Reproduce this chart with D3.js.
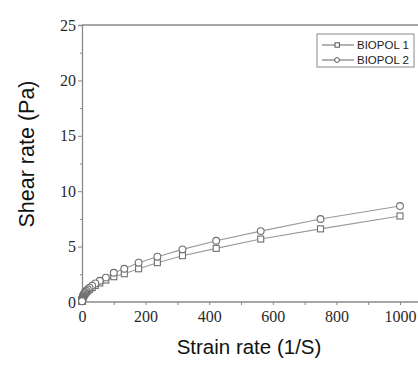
<!DOCTYPE html>
<html><head><meta charset="utf-8">
<script src="https://cdn.jsdelivr.net/npm/d3@7"></script>
<style>body{margin:0;background:#fff;} svg{display:block;} .tk text{font-family:"Liberation Serif";font-size:16px;fill:#2a2a2a;}</style>
</head><body>
<svg id="c" width="418" height="365"></svg>
<script>
const strainRate = [1000, 750, 562, 422, 316, 237, 178, 133, 100, 75, 56, 42, 32, 24, 18, 13.3, 10, 7.5, 5.6, 4.2, 3.2, 2.4, 1.8, 1.3, 1.0, 0.75, 0.56, 0.42, 0.32, 0.24, 0.18, 0.13, 0.1];
const biopol2 = [8.66, 7.49, 6.4, 5.53, 4.75, 4.09, 3.55, 3.0, 2.64, 2.2, 1.92, 1.68, 1.48, 1.3, 1.15, 1.02, 0.9, 0.79, 0.69, 0.6, 0.52, 0.45, 0.39, 0.33, 0.28, 0.24, 0.2, 0.17, 0.14, 0.12, 0.1, 0.08, 0.07];
const biopol1 = [7.76, 6.6, 5.68, 4.84, 4.18, 3.55, 3.0, 2.55, 2.28, 1.98, 1.72, 1.5, 1.3, 1.14, 1.0, 0.88, 0.77, 0.67, 0.58, 0.5, 0.43, 0.37, 0.32, 0.27, 0.23, 0.19, 0.16, 0.14, 0.11, 0.09, 0.08, 0.06, 0.05];
const xTicks = [0, 200, 400, 600, 800, 1000];
const yTicks = [0, 5, 10, 15, 20, 25];
const seriesNames = ["BIOPOL 1", "BIOPOL 2"];

const svg = d3.select("#c");
const x = d3.scaleLinear().domain([0, 1000]).range([82, 400]);
const y = d3.scaleLinear().domain([0, 25]).range([302, 25]);
const axisColor = "#8a8a8a";
const sans = "Liberation Sans";

// top border
svg.append("line").attr("x1", 82).attr("x2", 418).attr("y1", y(25)).attr("y2", y(25))
  .attr("stroke", axisColor).attr("stroke-width", 1.3);

// x axis
const xAxis = svg.append("g").attr("class", "tk").attr("transform", `translate(0,${y(0)})`)
  .call(d3.axisBottom(x).tickValues(xTicks).tickSize(3).tickFormat(d3.format("d")));
xAxis.attr("font-family", "Liberation Serif").attr("font-size", 16);
xAxis.select(".domain").attr("d", `M82,0H418`).attr("stroke", axisColor).attr("stroke-width", 1.3);
xAxis.selectAll(".tick line").attr("stroke", axisColor);
xAxis.selectAll("text").attr("dy", "0.85em");
const xMinor = svg.append("g").attr("transform", `translate(0,${y(0)})`)
  .call(d3.axisBottom(x).tickValues([100, 300, 500, 700, 900]).tickSize(3).tickFormat(""));
xMinor.select(".domain").remove();
xMinor.selectAll(".tick line").attr("stroke", axisColor);

// y axis
const yAxis = svg.append("g").attr("class", "tk").attr("transform", `translate(${x(0)},0)`)
  .call(d3.axisLeft(y).tickValues(yTicks).tickSize(4).tickPadding(2));
yAxis.attr("font-family", "Liberation Serif").attr("font-size", 16);
yAxis.select(".domain").attr("stroke", axisColor).attr("stroke-width", 1.3);
yAxis.selectAll(".tick line").attr("stroke", axisColor);
const yMinor = svg.append("g").attr("transform", `translate(${x(0)},0)`)
  .call(d3.axisLeft(y).tickValues([2.5, 7.5, 12.5, 17.5, 22.5]).tickSize(2).tickFormat(""));
yMinor.select(".domain").remove();
yMinor.selectAll(".tick line").attr("stroke", axisColor);

// axis titles
svg.append("text").attr("x", 249).attr("y", 354).attr("text-anchor", "middle")
  .style("font-family", sans).style("font-size", "20.5px").attr("fill", "#111")
  .text("Strain rate (1/S)");
svg.append("text").attr("transform", "translate(34,154) rotate(-90)").attr("text-anchor", "middle")
  .style("font-family", sans).style("font-size", "21.5px").attr("fill", "#111")
  .text("Shear rate (Pa)");

// series
const lineGen = d3.line().x(d => x(d[0])).y(d => y(d[1]));
const s1 = strainRate.map((v, i) => [v, biopol1[i]]);
const s2 = strainRate.map((v, i) => [v, biopol2[i]]);
[s1, s2].forEach(s => {
  svg.append("path").datum(s).attr("d", lineGen).attr("fill", "none")
    .attr("stroke", "#9a9a9a").attr("stroke-width", 1.1);
});
svg.append("g").selectAll("rect").data(s1).join("rect")
  .attr("x", d => x(d[0]) - 3).attr("y", d => y(d[1]) - 3).attr("width", 6).attr("height", 6)
  .attr("fill", "#fff").attr("stroke", "#6f6f6f").attr("stroke-width", 1.1);
svg.append("g").selectAll("circle").data(s2).join("circle")
  .attr("cx", d => x(d[0])).attr("cy", d => y(d[1])).attr("r", 3.4)
  .attr("fill", "#fff").attr("stroke", "#6f6f6f").attr("stroke-width", 1.1);

// legend
const lg = svg.append("g");
lg.append("rect").attr("x", 317).attr("y", 34).attr("width", 97).attr("height", 33)
  .attr("fill", "#fff").attr("stroke", "#8a8a8a").attr("stroke-width", 1);
seriesNames.forEach((name, i) => {
  const cy = 45 + i * 15;
  lg.append("line").attr("x1", 322).attr("x2", 354).attr("y1", cy).attr("y2", cy)
    .attr("stroke", "#666").attr("stroke-width", 1);
  if (i === 0) {
    lg.append("rect").attr("x", 335).attr("y", cy - 2.2).attr("width", 4.4).attr("height", 4.4)
      .attr("fill", "#fff").attr("stroke", "#555");
  } else {
    lg.append("circle").attr("cx", 337).attr("cy", cy).attr("r", 2.4)
      .attr("fill", "#fff").attr("stroke", "#555");
  }
  lg.append("text").attr("x", 357).attr("y", cy + 4).style("font-family", sans)
    .style("font-size", "11.5px").attr("fill", "#222").text(name);
});
</script>
</body></html>
